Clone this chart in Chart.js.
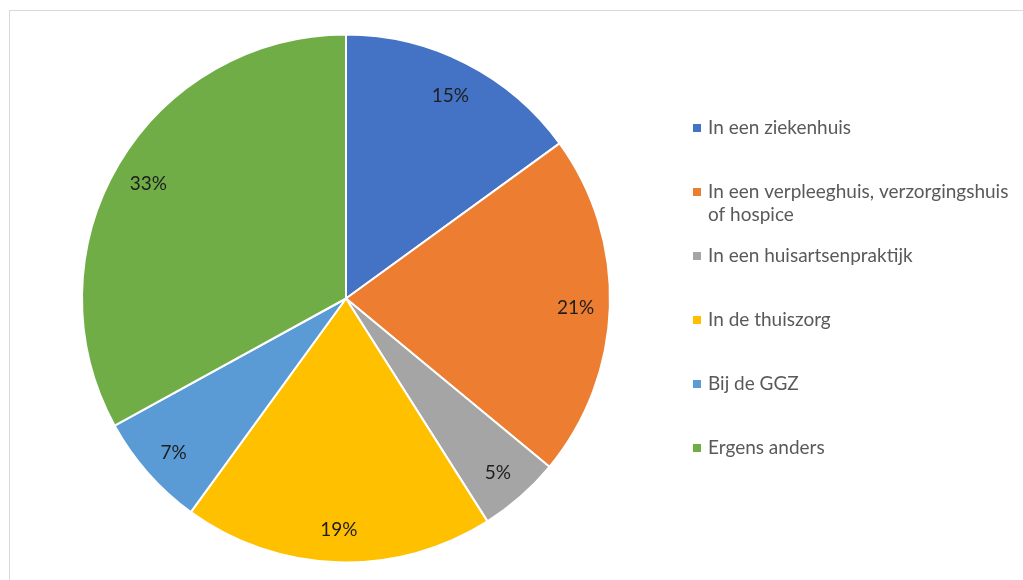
<!DOCTYPE html>
<html>
<head>
<meta charset="utf-8">
<script src="https://cdn.jsdelivr.net/npm/chart.js@4.4.1/dist/chart.umd.min.js"></script>
<style>
  html, body { margin: 0; padding: 0; background: #fff; }
  #wrap { position: relative; width: 1023px; height: 580px; overflow: hidden; }
  #frame { position: absolute; left: 9px; top: 10px; right: -5px; bottom: -5px;
           border: 1px solid #d9d9d9; }
  canvas { position: absolute; left: 0; top: 0; }
</style>
</head>
<body>
<div id="wrap">
  <div id="frame"></div>
  <canvas id="pie" width="1023" height="580"></canvas>
</div>
<script>
// categories (one is split over two lines like in the original legend)
const LABELS = [
  'In een ziekenhuis',
  ['In een verpleeghuis, verzorgingshuis', 'of hospice'],
  'In een huisartsenpraktijk',
  'In de thuiszorg',
  'Bij de GGZ',
  'Ergens anders'
];
const VALUES = [15, 21, 5, 19, 7, 33]; // percent
const COLORS = ['#4472C4', '#ED7D31', '#A5A5A5', '#FFC000', '#5B9BD5', '#70AD47'];

// percent labels inside the slices
const sliceLabels = {
  id: 'sliceLabels',
  afterDatasetsDraw(chart) {
    const ctx = chart.ctx;
    const meta = chart.getDatasetMeta(0);
    ctx.save();
    ctx.font = '19px Lato';
    ctx.fillStyle = '#1e1e1e';
    ctx.textAlign = 'center';
    ctx.textBaseline = 'middle';
    meta.data.forEach((arc, i) => {
      const p = arc.getProps(['x', 'y', 'startAngle', 'endAngle', 'outerRadius'], true);
      const mid = (p.startAngle + p.endAngle) / 2;
      const r = p.outerRadius * 0.87;
      ctx.fillText(VALUES[i] + '%', p.x + Math.cos(mid) * r, p.y + 2 + Math.sin(mid) * r);
    });
    ctx.restore();
  }
};

// legend on the right, drawn by hand so the wrapped item fits
const sideLegend = {
  id: 'sideLegend',
  afterDraw(chart) {
    const ctx = chart.ctx;
    const x = 693, rowTop = 128, rowStep = 64, lineH = 23;
    ctx.save();
    ctx.font = '19px Lato';
    ctx.textBaseline = 'middle';
    chart.data.labels.forEach((lbl, i) => {
      const y = rowTop + i * rowStep;
      ctx.fillStyle = COLORS[i];
      ctx.fillRect(x, y - 4, 8, 8);
      ctx.fillStyle = '#595959';
      const lines = Array.isArray(lbl) ? lbl : [lbl];
      lines.forEach((t, j) => ctx.fillText(t, x + 15, y + j * lineH));
    });
    ctx.restore();
  }
};

new Chart(document.getElementById('pie'), {
  type: 'pie',
  data: {
    labels: LABELS,
    datasets: [{
      data: VALUES,
      backgroundColor: COLORS,
      borderColor: '#ffffff',
      borderWidth: 2
    }]
  },
  options: {
    responsive: false,
    animation: false,
    events: [],
    layout: { padding: { left: 81, right: 412, top: 33, bottom: 16 } },
    plugins: {
      legend: { display: false },
      tooltip: { enabled: false }
    }
  },
  plugins: [sliceLabels, sideLegend]
});
</script>
</body>
</html>
